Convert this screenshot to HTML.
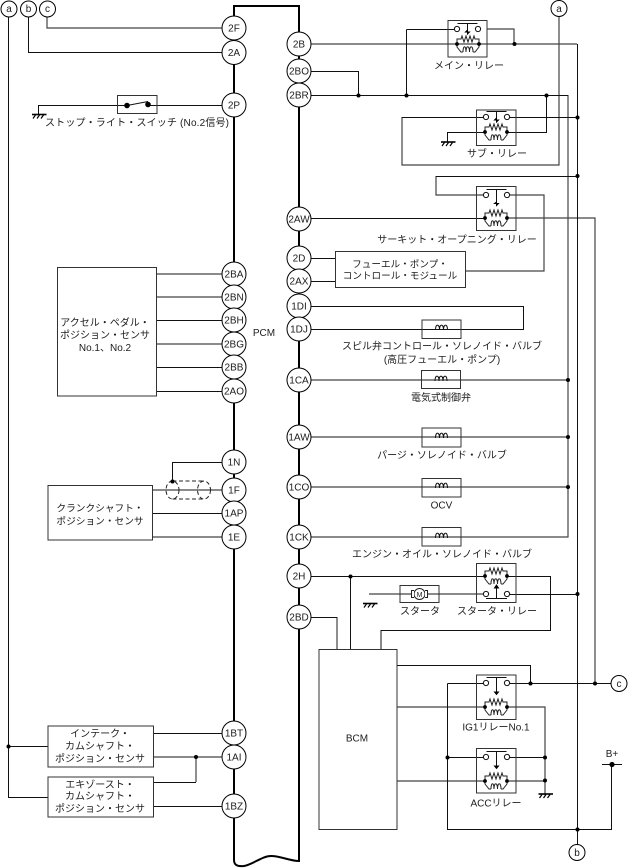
<!DOCTYPE html>
<html lang="ja"><head><meta charset="utf-8"><title>PCM</title>
<style>
html,body{margin:0;padding:0;background:#fff;width:628px;height:868px;overflow:hidden}
svg{display:block}
text{font-family:"Liberation Sans","Noto Sans CJK JP",sans-serif;font-size:10px;fill:#1c1c1c;text-anchor:middle}
.k path,.k rect{fill:none;stroke:#111;stroke-width:1}
.g path{fill:none;stroke:#444;stroke-width:1.2}
.b rect{fill:none;stroke:#333;stroke-width:1}
.n circle{fill:#fff;stroke:#000;stroke-width:1}
.d circle{fill:#000;stroke:none}
</style></head><body>
<svg xmlns="http://www.w3.org/2000/svg" width="628" height="868" viewBox="0 0 628 868">
<defs>
<g id="coil"><path d="M-11,0V-5H-7L-6,-8L-4,-2L-2,-8L0,-2L2,-8L4,-2L6,-8L7,-5H11V0V3L7,8H5M-11,0V3L-7,8H-5" fill="none" stroke="#222" stroke-width="1"/><path d="M-5,8C-5,1 -2,1 -2,8M-2,8C-2,1 1.500,1 1.500,8M1.500,8C1.500,1 5,1 5,8" fill="none" stroke="#222" stroke-width="1"/><circle cx="-11" cy="0" r="1.900" fill="#000"/><circle cx="11" cy="0" r="1.900" fill="#000"/></g>
<g id="coilf"><path d="M-11,0V5H-7L-6,8L-4,2L-2,8L0,2L2,8L4,2L6,8L7,5H11V0V-3L7,-8H5M-11,0V-3L-7,-8H-5" fill="none" stroke="#222" stroke-width="1"/><path d="M-5,-8C-5,-1 -2,-1 -2,-8M-2,-8C-2,-1 1.500,-1 1.500,-8M1.500,-8C1.500,-1 5,-1 5,-8" fill="none" stroke="#222" stroke-width="1"/><circle cx="-11" cy="0" r="1.900" fill="#000"/><circle cx="11" cy="0" r="1.900" fill="#000"/></g>
<g id="cont"><circle cx="-10.500" cy="0" r="2.600" fill="#fff" stroke="#111"/><circle cx="10.500" cy="0" r="2.600" fill="#fff" stroke="#111"/><path d="M-10,-5.500H10M0,-5.500V3" fill="none" stroke="#111" stroke-width="1"/></g>
<g id="gnd"><path d="M-6.500,0.500H8" stroke="#000" stroke-width="1.600" fill="none"/><path d="M-3,1L-5.500,4.500M1,1L-1.500,4.500M5,1L2.500,4.500" stroke="#000" stroke-width="1.200" fill="none"/></g>
<g id="sol"><path d="M-6,1C-6,-5.500 -2,-5.500 -2,1M-2,1C-2,-5.500 2,-5.500 2,1M2,1C2,-5.500 6,-5.500 6,1" fill="none" stroke="#111" stroke-width="1"/></g>
</defs>

<!-- PCM body -->
<path d="M234,6V860C234,866 239,866.500 244,866C254,864 262,856 271,856C281,856 290,861 299,861V6Z" fill="none" stroke="#000" stroke-width="2"/>
<path d="M233,6H300" stroke="#000" stroke-width="2" fill="none"/>

<!-- gray wires -->
<g class="g">
<path d="M47,17V28H222"/>
<path d="M311,44H577M487,29H514V44"/>
<path d="M568,95V537H311M311,380H568M311,487H568M311,437H568"/>
<path d="M507,218H595V683"/>
<path d="M507,195H544V271H465"/>
<path d="M559,16V165H402V117"/>
<path d="M157,274H222M157,297H222M157,344H222"/>
<path d="M153,490H222M153,537H222M153,757H222M196,757V782"/>
<path d="M397,707H485M507,707H545V795M397,781H485M507,781H545"/>
<path d="M369,594H486"/>
<path d="M337,617V649M436,176V195H486"/>
</g>
<!-- black wires -->
<g class="k">
<path d="M8.500,17V797.500H48M8.500,746.500H48"/>
<path d="M28.500,17V52.500H222"/>
<path d="M38.500,114V105.500H127M148,105.500H222"/>
<path d="M156,320.500H222M156,367.500H222M156,391.500H222"/>
<path d="M406.500,29.500H457M406.500,29.500V95.500M311,95.500H568M311,71.500H358.500V95.500"/>
<path d="M546.500,95.500V132.500H507M485,132.500H447.500V142M402,117.500H486M507,117.500H577"/>
<path d="M577.500,44V845"/>
<path d="M436,176.500H577"/>
<path d="M311,218.500H485"/>
<path d="M311,258.500H335M311,281.500H335"/>
<path d="M311,306.500H523.500V329.500H311"/>
<path d="M311,576.500H485M507,576.500H550.500V630.500H381V649M350.500,576.500V649"/>
<path d="M507,594.500H577M311,617.500H337"/>
<path d="M397,665.500H530.500V683.500M447.500,683.500H486M507,683.500H611"/>
<path d="M447.500,683.500V829.500H611.500V764M447.500,757.500H486M507,757.500H545"/>
<path d="M602,764.500H622"/>
<path d="M222,462.500H172.500V481M153,513.500H222M153,733.500H222M153,782.500H196M153,806.500H222"/>
</g>

<!-- boxes -->
<g class="b">
<rect x="117.500" y="95.500" width="39.500" height="18"/>
<rect x="57.500" y="267.500" width="99" height="128.500"/>
<rect x="48" y="485.500" width="104.500" height="54.500"/>
<rect x="48" y="726" width="105.500" height="41"/>
<rect x="48" y="777" width="105.500" height="40"/>
<rect x="448" y="20.500" width="39" height="36.500"/>
<rect x="476.500" y="110" width="39.500" height="35.500"/>
<rect x="476.500" y="186.500" width="39.500" height="44"/>
<rect x="335.500" y="251.500" width="130" height="36"/>
<rect x="422" y="320" width="39" height="18.500"/>
<rect x="421.500" y="370.500" width="39" height="18"/>
<rect x="422" y="428" width="39" height="19"/>
<rect x="422" y="478.500" width="39" height="18.500"/>
<rect x="422" y="527.500" width="39" height="18.500"/>
<rect x="476.500" y="563.500" width="39.500" height="39"/>
<rect x="400" y="585.500" width="39" height="17"/>
<rect x="319" y="649.500" width="78" height="180"/>
<rect x="476.500" y="675" width="39.500" height="44.500"/>
<rect x="476.500" y="748.500" width="39.500" height="44.500"/>
</g>

<!-- stop switch -->
<path d="M127,105.500L148,101.500" stroke="#111" fill="none"/>
<g class="d"><circle cx="127" cy="105.500" r="2.800"/><circle cx="148" cy="104.500" r="2.800"/></g>
<!-- shield -->
<g fill="none" stroke="#222" stroke-dasharray="4 2.500"><ellipse cx="172.500" cy="490" rx="6.500" ry="9"/><ellipse cx="204" cy="490" rx="6.500" ry="9"/><path d="M172.500,481H204M172.500,499H204"/></g>

<!-- relays -->
<use href="#cont" x="467.500" y="29"/><path d="M467.500,30L465.500,32L469.500,32L467.500,34Z" fill="#000" stroke="#000"/><use href="#coil" x="468" y="44"/>
<use href="#cont" x="496.500" y="117"/><path d="M496.500,118L494.500,120H498.500L496.500,122Z" fill="#000" stroke="#000"/><use href="#coil" x="496" y="132"/>
<use href="#cont" x="496.500" y="195"/><path d="M496.500,195V204" stroke="#111"/><path d="M496.500,202L494.500,203.500H498.500L496.500,205.500Z" fill="#000" stroke="#000"/><use href="#coil" x="496" y="218"/>
<use href="#coil" x="496" y="576"/><circle cx="486" cy="594" r="2.600" fill="#fff" stroke="#111"/><circle cx="507" cy="594" r="2.600" fill="#fff" stroke="#111"/><path d="M486,598.500H507M496.500,598.500V587" fill="none" stroke="#111"/><path d="M496.500,585L494.500,588H498.500Z" fill="#000" stroke="#000"/>
<use href="#cont" x="496.500" y="683"/><path d="M496.500,683V693" stroke="#111"/><path d="M496.500,694.500L494.500,692H498.500Z" fill="#000" stroke="#000"/><use href="#coil" x="496" y="707"/>
<use href="#cont" x="496.500" y="757"/><path d="M496.500,757V767" stroke="#111"/><path d="M496.500,768.500L494.500,766H498.500Z" fill="#000" stroke="#000"/><use href="#coil" x="496" y="781"/>

<!-- solenoids -->
<use href="#sol" x="441.500" y="329"/><use href="#sol" x="441" y="380"/><use href="#sol" x="441.500" y="437"/><use href="#sol" x="441.500" y="487"/><use href="#sol" x="441.500" y="537"/>
<!-- starter motor -->
<circle cx="419.500" cy="594" r="5.500" fill="#fff" stroke="#222"/><path d="M414,590.500H411.500V597.500H414M425,590.500H427.500V597.500H425" fill="#fff" stroke="#222"/>
<text x="419.500" y="597" style="font-size:7px">M</text>

<!-- grounds -->
<use href="#gnd" x="38.500" y="114"/><use href="#gnd" x="447.500" y="141.500"/><use href="#gnd" x="369.500" y="603"/><use href="#gnd" x="545" y="793.500"/>

<!-- dots -->
<g class="d">
<circle cx="514.500" cy="44" r="2"/><circle cx="358.500" cy="95.500" r="2"/><circle cx="406.500" cy="95.500" r="2"/><circle cx="546.500" cy="95.500" r="2"/>
<circle cx="577.500" cy="117.500" r="2"/><circle cx="577.500" cy="176" r="2"/><circle cx="577.500" cy="594" r="2"/><circle cx="577.500" cy="829.500" r="2"/>
<circle cx="568" cy="380" r="2"/><circle cx="568" cy="437" r="2"/><circle cx="568" cy="487" r="2"/>
<circle cx="350.500" cy="576.500" r="2"/><circle cx="530.500" cy="683.500" r="2"/><circle cx="595" cy="683.500" r="2"/><circle cx="447.500" cy="757.500" r="2"/>
<circle cx="545" cy="757.500" r="2"/><circle cx="545" cy="780.500" r="2"/><circle cx="612" cy="764.500" r="2.600"/>
<circle cx="8.500" cy="746.500" r="2"/><circle cx="196" cy="757" r="2"/><circle cx="172.500" cy="481.500" r="2"/>
</g>

<!-- nodes -->
<g class="n">
<circle cx="9" cy="9" r="8"/><circle cx="28.500" cy="9" r="8"/><circle cx="47.500" cy="9" r="8"/>
<circle cx="559" cy="8.500" r="8"/><circle cx="619" cy="683.500" r="8"/><circle cx="577" cy="852.500" r="8"/>
<circle cx="234" cy="28" r="12"/><circle cx="234" cy="52.500" r="12"/><circle cx="234" cy="105" r="12"/>
<circle cx="234" cy="274" r="12"/><circle cx="234" cy="297" r="12"/><circle cx="234" cy="320" r="12"/><circle cx="234" cy="344" r="12"/><circle cx="234" cy="367" r="12"/><circle cx="234" cy="391" r="12"/>
<circle cx="234" cy="462" r="12"/><circle cx="234" cy="490" r="12"/><circle cx="234" cy="513" r="12"/><circle cx="234" cy="537" r="12"/>
<circle cx="234" cy="733" r="12"/><circle cx="234" cy="757" r="12"/><circle cx="234" cy="806" r="12"/>
<circle cx="299" cy="44" r="12"/><circle cx="299" cy="71" r="12"/><circle cx="299" cy="95" r="12"/>
<circle cx="299" cy="219" r="12"/><circle cx="299" cy="258" r="12"/><circle cx="299" cy="281" r="12"/><circle cx="299" cy="306" r="12"/><circle cx="299" cy="329" r="12"/>
<circle cx="299" cy="380" r="12"/><circle cx="299" cy="437" r="12"/><circle cx="299" cy="487" r="12"/><circle cx="299" cy="537" r="12"/><circle cx="299" cy="576" r="12"/><circle cx="299" cy="617" r="12"/>
</g>

<!-- node labels -->
<g>
<text x="9" y="12">a</text><text x="28.500" y="12">b</text><text x="47.500" y="12">c</text>
<text x="559" y="12">a</text><text x="619" y="687">c</text><text x="577" y="856">b</text>
<text x="234" y="31.500">2F</text><text x="234" y="56">2A</text><text x="234" y="108.500">2P</text>
<text x="234" y="277.500">2BA</text><text x="234" y="300.500">2BN</text><text x="234" y="323.500">2BH</text><text x="234" y="347.500">2BG</text><text x="234" y="370.500">2BB</text><text x="234" y="394.500">2AO</text>
<text x="234" y="465.500">1N</text><text x="234" y="493.500">1F</text><text x="234" y="516.500">1AP</text><text x="234" y="540.500">1E</text>
<text x="234" y="736.500">1BT</text><text x="234" y="760.500">1AI</text><text x="234" y="809.500">1BZ</text>
<text x="299" y="47.500">2B</text><text x="299" y="74.500">2BO</text><text x="299" y="98.500">2BR</text>
<text x="299" y="222.500">2AW</text><text x="299" y="261.500">2D</text><text x="299" y="284.500">2AX</text><text x="299" y="309.500">1DI</text><text x="299" y="332.500">1DJ</text>
<text x="299" y="383.500">1CA</text><text x="299" y="440.500">1AW</text><text x="299" y="490.500">1CO</text><text x="299" y="540.500">1CK</text><text x="299" y="579.500">2H</text><text x="299" y="620.500">2BD</text>
</g>

<!-- labels -->
<text x="137" y="126" textLength="184">ストップ・ライト・スイッチ (No.2信号)</text>
<text x="264" y="336">PCM</text>
<text x="105" y="326">アクセル・ペダル・</text>
<text x="105" y="338.500">ポジション・センサ</text>
<text x="105" y="351">No.1、No.2</text>
<text x="100" y="511.500" style="font-size:9.700px">クランクシャフト・</text>
<text x="100" y="524.500" style="font-size:9.700px">ポジション・センサ</text>
<text x="100" y="737">インテーク・</text>
<text x="100" y="749.500">カムシャフト・</text>
<text x="100" y="762">ポジション・センサ</text>
<text x="100" y="788">エキゾースト・</text>
<text x="100" y="799.500">カムシャフト・</text>
<text x="100" y="812">ポジション・センサ</text>
<text x="469" y="69">メイン・リレー</text>
<text x="497" y="157">サブ・リレー</text>
<text x="457" y="243">サーキット・オープニング・リレー</text>
<text x="400" y="267.500" style="font-size:9.600px">フューエル・ポンプ・</text>
<text x="400" y="279" style="font-size:9.600px">コントロール・モジュール</text>
<text x="442" y="349.500">スピル弁コントロール・ソレノイド・バルブ</text>
<text x="442" y="363">(高圧フューエル・ポンプ)</text>
<text x="441" y="401">電気式制御弁</text>
<text x="442" y="458.500">パージ・ソレノイド・バルブ</text>
<text x="441.500" y="508.500">OCV</text>
<text x="442" y="557.500">エンジン・オイル・ソレノイド・バルブ</text>
<text x="420" y="614.500">スタータ</text>
<text x="497" y="614.500">スタータ・リレー</text>
<text x="357" y="741.500">BCM</text>
<text x="496" y="730.500">IG1リレーNo.1</text>
<text x="496" y="806.500">ACCリレー</text>
<text x="612" y="757">B+</text>
</svg>
</body></html>
